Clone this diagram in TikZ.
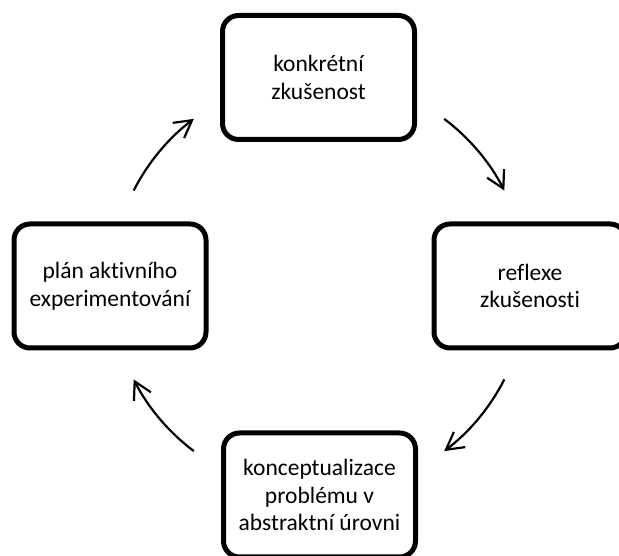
\documentclass[tikz,border=0pt]{standalone}
\usepackage{fontspec}
\setmainfont{Carlito}[Ligatures={NoCommon}]
\usetikzlibrary{arrows.meta}
\begin{document}
\begin{tikzpicture}[x=1pt,y=1pt,
  stagebox/.style={draw=black, line width=5pt, rounded corners=16pt,
    minimum width=192pt, minimum height=124pt, align=center,
    inner sep=0pt, font=\fontsize{23.5}{27.5}\selectfont},
  cyclearrow/.style={draw=black, line width=2.2pt,
    -{Straight Barb[length=17pt,width=19pt,line width=2.2pt]}}]
\useasboundingbox (0,0) rectangle (619,556);
\begin{scope}
\clip (0,0) rectangle (619,556);
\coordinate (C) at (319,271);
\node[stagebox] (top) at (318.5,478.5) {konkrétní\\zkušenost};
\node[stagebox] (right) at (530,270) {reflexe\\zkušenosti};
\node[stagebox] (bottom) at (319.5,61) {konceptualizace\\problému v\\abstraktní úrovni};
\node[stagebox] (left) at (110,270) {plán aktivního\\experimentování};
\draw[cyclearrow] ([shift={(53:208pt)}]C) arc[start angle=53, end angle=27, radius=208pt];
\draw[cyclearrow] ([shift={(-27:208pt)}]C) arc[start angle=-27, end angle=-53, radius=208pt];
\draw[cyclearrow] ([shift={(233:208pt)}]C) arc[start angle=233, end angle=207, radius=208pt];
\draw[cyclearrow] ([shift={(153:208pt)}]C) arc[start angle=153, end angle=127, radius=208pt];
\end{scope}
\end{tikzpicture}
\end{document}
